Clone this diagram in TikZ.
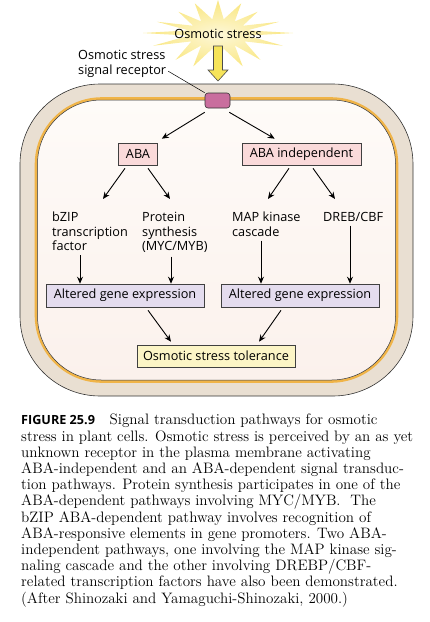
\documentclass[tikz,border=0pt]{standalone}
\usepackage{fontspec}
\setsansfont{Open Sans}
\usetikzlibrary{arrows.meta,positioning,calc}
\definecolor{wallc}{HTML}{E9DFD2}
\definecolor{memc}{HTML}{F0B448}
\definecolor{cellt}{HTML}{FEFBF8}
\definecolor{cellb}{HTML}{FBF1EC}
\definecolor{recc}{HTML}{C96E9E}
\definecolor{abac}{HTML}{FADADA}
\definecolor{genec}{HTML}{E4DCEE}
\definecolor{tolc}{HTML}{FCF5C6}
\definecolor{arrc}{HTML}{F6E45A}
\definecolor{glowc}{HTML}{F9E67E}

\begin{document}
\begin{tikzpicture}[x=1pt,y=-1pt,>={Stealth[length=7pt,width=6pt]},
  font=\sffamily\fontsize{12.7}{14.5}\selectfont,
  bx/.style={draw=black!75,line width=0.6pt,inner sep=0pt,minimum height=22pt},
  lbl/.style={align=left,inner sep=0pt,anchor=north west},
  ar/.style={->,line width=0.9pt}]
  \useasboundingbox (0,0) rectangle (429,622);
  % glow
  \shade[shift={(218,33)},inner color=glowc!30,outer color=glowc]
    (75,0) \foreach \a/\r/\s in {11/30/14,22/70/34,34/32/15,45/60/38,56/30/15,68/66/36,79/30/16,90/50/36,101/30/16,112/66/36,124/30/15,135/60/38,146/32/15,158/70/34,169/30/14,180/75/33,191/30/14,202/66/30,214/30/13,225/56/30,236/30/14,248/62/32,259/30/14,270/48/33,281/30/14,292/62/32,304/30/14,315/56/30,326/30/13,338/66/30,349/30/14}
    { -- ({\r*cos(\a)},{\s*sin(\a)}) } -- cycle;
  % cell wall and membrane
  \filldraw[fill=wallc,draw=black!80,line width=0.6pt,rounded corners=80pt] (20,84) rectangle (413,396);
  \draw[memc,line width=2.6pt,rounded corners=66pt] (36,98.5) rectangle (397,381.5);
  \shade[top color=cellt,bottom color=cellb,rounded corners=64pt] (37.5,100) rectangle (395.5,380);
  \draw[black!80,line width=0.5pt,rounded corners=64pt] (37.5,100) rectangle (395.5,380);

  \node[inner sep=0pt] (os) at (218,33.5) {Osmotic stress};
  \draw[fill=arrc,draw=black!70,line width=0.6pt]
    ($(os.center)+(-4.5,12.5)$) -- ++(0,24) -- ++(-5.5,0) -- ++(10,11) -- ++(10,-11) -- ++(-5.5,0) -- ++(0,-24) -- cycle;
  \node[draw=black!80,line width=0.6pt,rounded corners=3pt,fill=recc,minimum width=25pt,minimum height=15pt,inner sep=0pt] (rec) at (217.5,100.5) {};
  \node[lbl] (recl) at (78,50) {Osmotic stress\\signal receptor};
  \draw[line width=0.5pt] ($(recl.south east)+(2,-6)$) -- (rec.north west);

  \node[bx,fill=abac,minimum width=39pt] (aba) at (138,154) {ABA};
  \node[bx,fill=abac,minimum width=119pt] (abai) at (301.5,154) {ABA independent};
  \node[lbl] (bzip) at (52,212) {bZIP\\transcription\\factor};
  \node[lbl] (prot) at (142,212) {Protein\\synthesis\\(MYC/MYB)};
  \node[lbl] (map) at (232,212) {MAP kinase\\cascade};
  \node[lbl] (dreb) at (323,212) {DREB/CBF};
  \node[bx,fill=genec,minimum width=158pt,minimum height=23pt] (gl) at (125,295.5) {Altered gene expression};
  \node[bx,fill=genec,minimum width=158pt,minimum height=23pt] (gr) at (300,295.5) {Altered gene expression};
  \node[bx,fill=tolc,minimum width=158pt] (tol) at (216,356) {Osmotic stress tolerance};

  \coordinate (bzin) at ($(gl.north)+(-45,0)$);
  \coordinate (prin) at ($(gl.north)+(46,0)$);
  \coordinate (mpin) at ($(gr.north)+(-39,0)$);
  \coordinate (drin) at ($(gr.north)+(50,0)$);

  \draw[ar] ($(rec.south west)+(0,4)$) -- ($(aba.north east)+(4,-4)$);
  \draw[ar] ($(rec.south east)+(-1,4)$) -- ($(abai.north west)+(33,-4)$);
  \draw[ar] ($(aba.south)+(-13,3)$) -- ($(bzip.north west)+(51,-13)$);
  \draw[ar] ($(aba.south)+(10,3)$) -- ($(prot.north west)+(28,-13)$);
  \draw[ar] ($(abai.south)+(-12.5,3)$) -- ($(map.north west)+(36,-13)$);
  \draw[ar] ($(abai.south)+(11.5,3)$) -- ($(dreb.north west)+(12,-13)$);
  \draw[ar] (bzin |- bzip.south) ++(0,4) -- (bzin);
  \draw[ar] (prin |- prot.south) ++(0,4) -- (prin);
  \draw[ar] (mpin |- map.south) ++(0,4) -- (mpin);
  \draw[ar] (drin |- dreb.south) ++(0,4) -- (drin);
  \draw[ar] ($(gl.south)+(23,3)$) -- ($(tol.north)+(-45,-3)$);
  \draw[ar] ($(gr.south)+(-19,3)$) -- ($(tol.north)+(43,-3)$);

  \node[lbl,scale=1.053,font=\rmfamily\fontsize{14.35}{15.38}\selectfont] (cap) at (21,414)
    {{\sffamily\bfseries\fontsize{12}{15.38}\selectfont FIGURE 25.9}\hspace{14pt}Signal transduction pathways for osmotic\\
     stress in plant cells. Osmotic stress is perceived by an as yet\\
     unknown receptor in the plasma membrane activating\\
     ABA-independent and an ABA-dependent signal transduc-\\
     tion pathways. Protein synthesis participates in one of the\\
     ABA-dependent pathways involving MYC/MYB.\ \ The\\
     bZIP ABA-dependent pathway involves recognition of\\
     ABA-responsive elements in gene promoters. Two ABA-\\
     independent pathways, one involving the MAP kinase sig-\\
     naling cascade and the other involving DREBP/CBF-\\
     related transcription factors have also been demonstrated.\\
     (After Shinozaki and Yamaguchi-Shinozaki, 2000.)};
\end{tikzpicture}
\end{document}
